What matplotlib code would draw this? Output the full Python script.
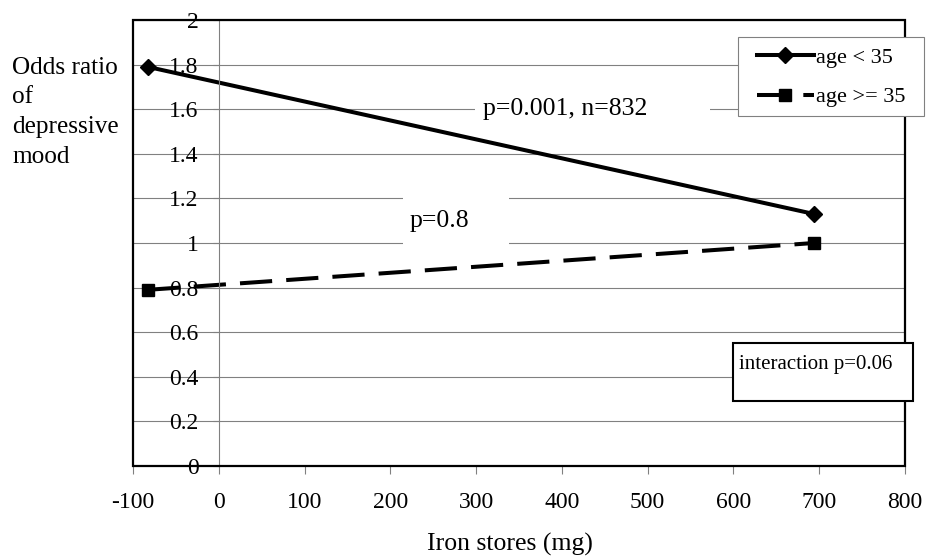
import matplotlib
matplotlib.use("Agg")
import matplotlib.pyplot as plt
from matplotlib.patches import Rectangle
from matplotlib.lines import Line2D

plt.rcParams['font.family'] = ['Liberation Serif', 'DejaVu Serif']
plt.rcParams['font.size'] = 17
plt.rcParams['axes.unicode_minus'] = False

# iron stores (mg) at the two ends of the fitted lines
iron_mg = [-83, 694]
or_young = [1.79, 1.13]   # age < 35
or_old = [0.79, 1.0]      # age >= 35

x_ticks = [-100, 0, 100, 200, 300, 400, 500, 600, 700, 800]
y_ticks = [0, 0.2, 0.4, 0.6, 0.8, 1.0, 1.2, 1.4, 1.6, 1.8, 2.0]
y_tick_labels = ['0', '0.2', '0.4', '0.6', '0.8', '1', '1.2', '1.4', '1.6', '1.8', '2']

fig = plt.figure(figsize=(9.26, 5.59), dpi=100)
ax = fig.add_axes([133/926, 1 - 466/559, 772/926, 446/559])

grey = '#808080'
ax.set_xlim(-100, 800)
ax.set_ylim(0, 2)
ax.set_xticks(x_ticks)
ax.set_yticks(y_ticks)
ax.set_yticklabels(y_tick_labels)
ax.yaxis.grid(True, color=grey, linewidth=0.8)
ax.set_axisbelow(True)

# y axis crosses at x = 0, the outer frame is drawn separately
ax.spines['left'].set_position(('data', 0))
ax.spines['left'].set_color(grey)
ax.spines['left'].set_linewidth(0.8)
for s in ['top', 'right', 'bottom']:
    ax.spines[s].set_visible(False)
ax.add_patch(Rectangle((0, 0), 1, 1, transform=ax.transAxes, fill=False,
                       edgecolor='black', linewidth=1.6, clip_on=False, zorder=3))

ax.tick_params(axis='y', direction='out', length=4.5, width=0.8, color=grey, pad=10,
               labelsize=17)
ax.tick_params(axis='x', direction='out', length=6, width=0.8, color=grey, pad=12.5,
               labelsize=17)

# white boxes behind the p-value labels hide the gridlines
ax.add_patch(Rectangle((0.443, 0.738), 0.304, 0.116, transform=ax.transAxes,
                       facecolor='white', edgecolor='none', zorder=1.5))
ax.text(0.453, 0.787, 'p=0.001, n=832', transform=ax.transAxes, va='baseline',
        ha='left', fontsize=18.5, zorder=1.6)
ax.add_patch(Rectangle((0.3497, 0.48), 0.137, 0.143, transform=ax.transAxes,
                       facecolor='white', edgecolor='none', zorder=1.5))
ax.text(0.3588, 0.536, 'p=0.8', transform=ax.transAxes, va='baseline',
        ha='left', fontsize=18.5, zorder=1.6)

ax.plot(iron_mg, or_young, color='black', linewidth=2.9, marker='D',
        markersize=8, zorder=2.5)
ax.plot(iron_mg, or_old, color='black', linewidth=2.9, dashes=(8, 3.5),
        marker='s', markersize=9, zorder=2.5)

# interaction note box on top of the right frame
ax.add_patch(Rectangle((0.777, 0.1457), 0.2334, 0.1301, transform=ax.transAxes,
                       facecolor='white', edgecolor='black', linewidth=1.5,
                       clip_on=False, zorder=4))
ax.text(0.785, 0.2175, 'interaction p=0.06', transform=ax.transAxes,
        va='baseline', ha='left', fontsize=15, zorder=5)

# legend frame drawn by hand, legend itself without frame
fig.patches.append(Rectangle((738/926, 1 - 116/559), 186/926, 79/559,
                             transform=fig.transFigure, facecolor='white',
                             edgecolor=grey, linewidth=0.8, zorder=1))
handles = [
    Line2D([], [], color='black', linewidth=2.9, marker='D', markersize=8),
    Line2D([], [], color='black', linewidth=2.9, dashes=(8, 3.5), marker='s', markersize=9),
]
leg = fig.legend(handles, ['age < 35', 'age >= 35'], loc='upper left',
                 bbox_to_anchor=(757/926, 1 - 47/559), borderaxespad=0,
                 frameon=False, handlelength=2.55, handletextpad=0.1,
                 borderpad=0, labelspacing=0.87, fontsize=16)
leg.set_zorder(5)

# y label written as four left-aligned lines
for txt, base in zip(['Odds ratio', 'of', 'depressive', 'mood'], [74, 103.5, 133, 162.5]):
    fig.text(12/926, 1 - base/559, txt, ha='left', va='baseline', fontsize=18.2)

fig.text(510/926, 1 - 551/559, 'Iron stores (mg)', ha='center', va='baseline', fontsize=18.5)

fig.savefig('out.png', dpi=100)
